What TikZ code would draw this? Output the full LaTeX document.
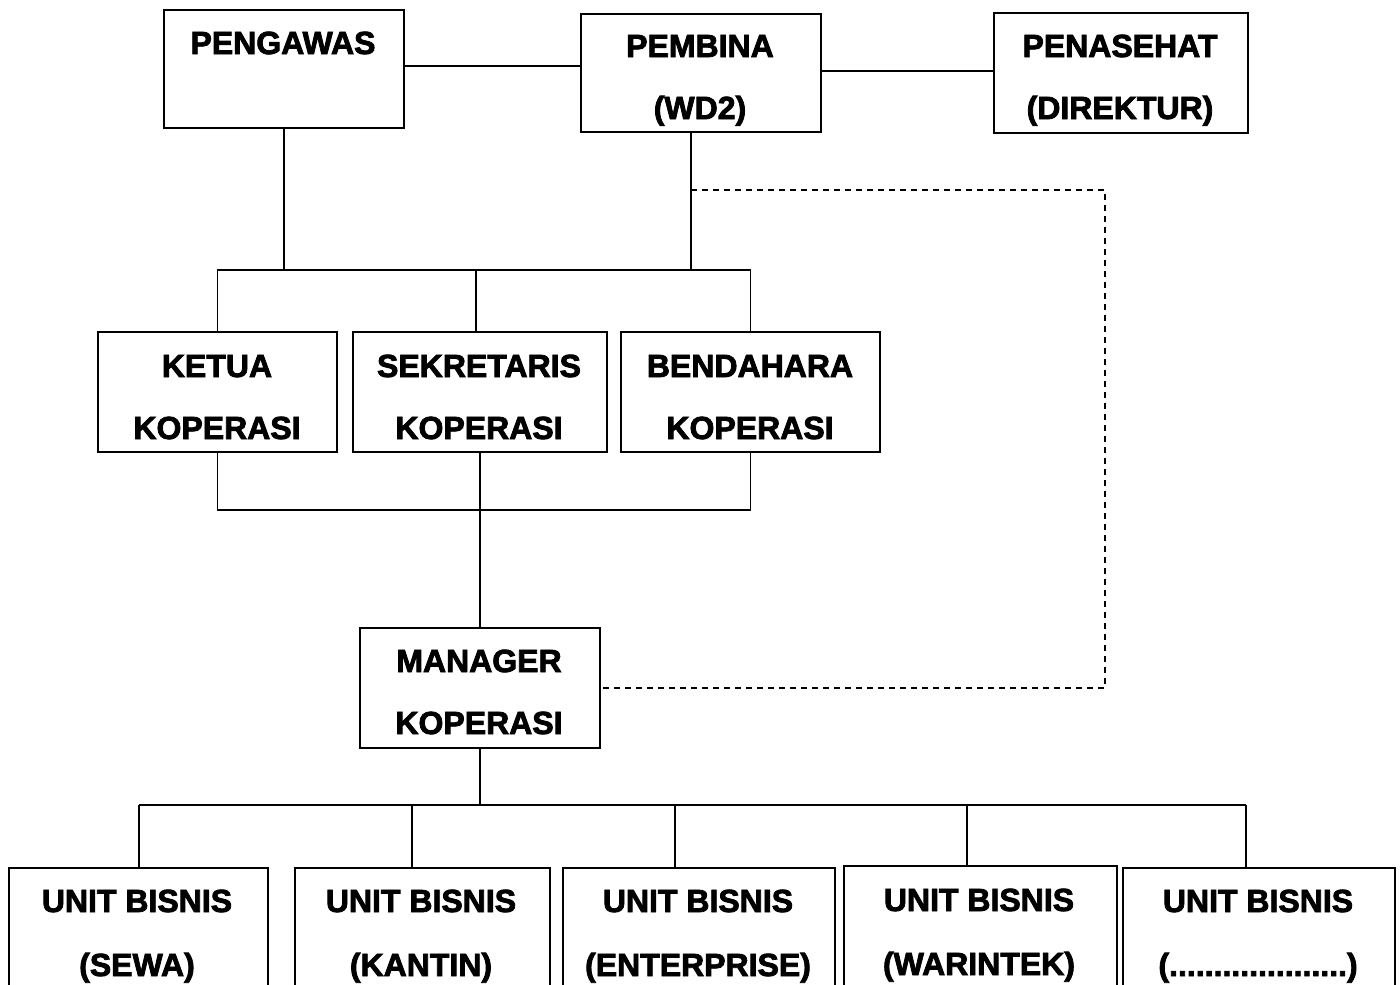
\documentclass[tikz,border=0pt]{standalone}
\usepackage{fontspec}
\newfontfamily\lblfont{Liberation Sans Bold}[FakeBold=2.5]
\usetikzlibrary{calc}
\begin{document}
\begin{tikzpicture}[x=1pt,y=-1pt,
  box/.style={draw, line width=2pt, inner sep=0pt, anchor=north west},
  conn/.style={line width=1.6pt},
  dashconn/.style={line width=1.5pt, dash pattern=on 6pt off 5pt},
  lbl/.style={anchor=base, inner sep=0pt, font=\lblfont\fontsize{32}{38}\selectfont}]
\useasboundingbox (0,0) rectangle (1400,985);
\fill[white] (0,0) rectangle (1400,985);
\clip (0,0) rectangle (1400,985);

% boxes
\node[box, minimum width=240pt, minimum height=118pt] (pengawas) at (163,9) {};
\node[box, minimum width=240pt, minimum height=118pt] (pembina) at (580,13) {};
\node[box, minimum width=254pt, minimum height=120pt] (penasehat) at (993,12) {};
\node[box, minimum width=239pt, minimum height=120pt] (ketua) at (97,331) {};
\node[box, minimum width=254pt, minimum height=120pt] (sekretaris) at (352,331) {};
\node[box, minimum width=259pt, minimum height=120pt] (bendahara) at (620,331) {};
\node[box, minimum width=240pt, minimum height=120pt] (manager) at (359,627) {};
\node[box, minimum width=259pt, minimum height=160pt] (sewa) at (8,867) {};
\node[box, minimum width=255pt, minimum height=160pt] (kantin) at (294,867) {};
\node[box, minimum width=272pt, minimum height=160pt] (enterprise) at (562,867) {};
\node[box, minimum width=273pt, minimum height=160pt] (warintek) at (843,865) {};
\node[box, minimum width=272pt, minimum height=160pt] (unitx) at (1122,867) {};

% labels
\node[lbl] (pengawas-a) at (283,54) {PENGAWAS};
\node[lbl] (pembina-a) at (700,57) {PEMBINA};
\node[lbl] (pembina-b) at (700,119) {(WD2)};
\node[lbl] (penasehat-a) at (1120,57) {PENASEHAT};
\node[lbl] (penasehat-b) at (1120,119) {(DIREKTUR)};
\node[lbl] (ketua-a) at (217,377) {KETUA};
\node[lbl] (ketua-b) at (217,439) {KOPERASI};
\node[lbl] (sekretaris-a) at (479,377) {SEKRETARIS};
\node[lbl] (sekretaris-b) at (479,439) {KOPERASI};
\node[lbl] (bendahara-a) at (750,377) {BENDAHARA};
\node[lbl] (bendahara-b) at (750,439) {KOPERASI};
\node[lbl] (manager-a) at (479,672) {MANAGER};
\node[lbl] (manager-b) at (479,734) {KOPERASI};
\node[lbl] (sewa-a) at (137,912) {UNIT BISNIS};
\node[lbl] (sewa-b) at (137,976) {(SEWA)};
\node[lbl] (kantin-a) at (421,912) {UNIT BISNIS};
\node[lbl] (kantin-b) at (421,976) {(KANTIN)};
\node[lbl] (enterprise-a) at (698,912) {UNIT BISNIS};
\node[lbl] (enterprise-b) at (698,976) {(ENTERPRISE)};
\node[lbl] (warintek-a) at (979,911) {UNIT BISNIS};
\node[lbl] (warintek-b) at (979,975) {(WARINTEK)};
\node[lbl] (unitx-a) at (1258,912) {UNIT BISNIS};
\node[lbl] (unitx-b) at (1258,976) {(....................)};

% coordinates
\coordinate (bus1) at (476,270);
\coordinate (bus2) at (479,510);
\coordinate (bus3) at (477,805);
\coordinate (pemdrop) at ($(pembina.south)+(-10,0)$);
\coordinate (dcorner) at (1105,190);
\coordinate (d1) at (139,805);
\coordinate (d2) at (412,805);
\coordinate (d3) at (675,805);
\coordinate (d4) at (967,805);
\coordinate (d5) at (1246,805);

% top connectors
\draw[conn] (pengawas.east |- 0,66) -- (pembina.west |- 0,66);
\draw[conn] (pembina.east |- 0,71) -- (penasehat.west |- 0,71);
\draw[conn] (pengawas.south) -- (pengawas.south |- bus1);
\draw[conn] (pemdrop) -- (pemdrop |- bus1);
\draw[conn] (ketua.north) |- (bendahara.north |- bus1) -- (bendahara.north);
\draw[conn] (bus1) -- (bus1 |- sekretaris.north);

% middle connectors
\draw[conn] (ketua.south) |- (bendahara.south |- bus2) -- (bendahara.south);
\draw[conn] (sekretaris.south) -- (manager.north);

% dashed link
\draw[dashconn] (pemdrop |- dcorner) -- (dcorner) |- (manager.east);

% bottom connectors
\draw[conn] (manager.south) -- (manager.south |- bus3);
\draw[conn] (d1) -- (d5);
\draw[conn] (d1) -- (d1 |- sewa.north);
\draw[conn] (d2) -- (d2 |- kantin.north);
\draw[conn] (d3) -- (d3 |- enterprise.north);
\draw[conn] (d4) -- (d4 |- warintek.north);
\draw[conn] (d5) -- (d5 |- unitx.north);
\end{tikzpicture}
\end{document}
